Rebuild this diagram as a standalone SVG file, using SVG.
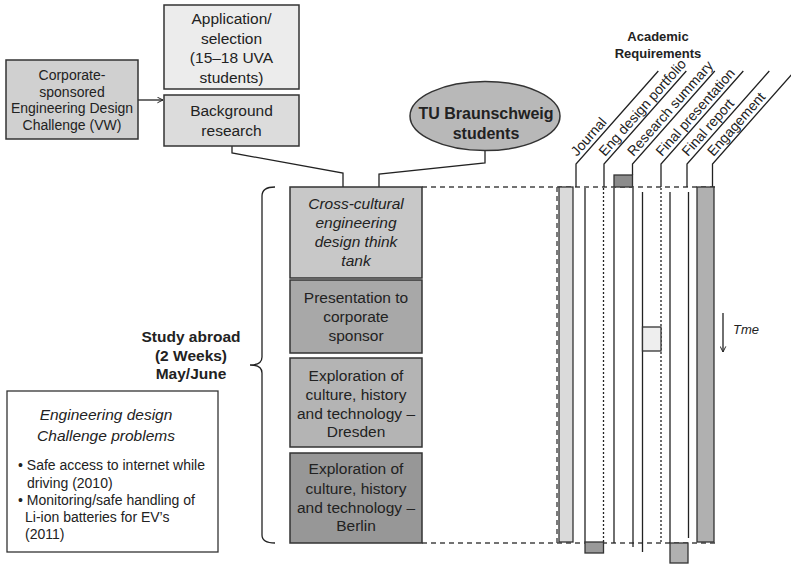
<svg xmlns="http://www.w3.org/2000/svg" width="791" height="566" viewBox="0 0 791 566">
<defs>
<style>
.box{stroke:#333;stroke-width:1.5}
.t{font-family:"Liberation Sans",Arial,sans-serif;font-size:15.5px;fill:#222;text-anchor:middle}
.ti{font-style:italic}
.tb{font-weight:bold}
.c{fill:none;stroke:#222;stroke-width:1.3}
.dash{fill:none;stroke:#444;stroke-width:1.4;stroke-dasharray:5,4}
.dot{fill:none;stroke:#222;stroke-width:1.3;stroke-dasharray:2,2}
.rl{font-family:"Liberation Sans",Arial,sans-serif;font-size:14px;fill:#222}
.sm{font-family:"Liberation Sans",Arial,sans-serif;font-size:14px;fill:#222}
</style>
<marker id="ah" viewBox="0 0 10 10" refX="9" refY="5" markerWidth="7" markerHeight="7" orient="auto" markerUnits="userSpaceOnUse">
<path d="M1,1 L9,5 L1,9" fill="none" stroke="#222" stroke-width="1.4"/>
</marker>
</defs>
<rect width="791" height="566" fill="#fff"/>

<g id="connectors">
<line class="c" x1="138" y1="100" x2="163" y2="100" marker-end="url(#ah)"/>
<polyline class="c" points="232,146 232,153 343,173 343,187"/>
<polyline class="c" points="485,151 485,163 379,174 379,187"/>
<path class="c" d="M275,187 Q262,187 262,196 L262,357 Q262,365 250,365 Q262,365 262,373 L262,535 Q262,543 275,543"/>
<line class="dash" x1="422" y1="187" x2="715" y2="187"/>
<line class="dash" x1="422" y1="543" x2="715" y2="543"/>
<line class="dash" x1="557" y1="187" x2="557" y2="543"/>
<line class="c" x1="723" y1="313" x2="723" y2="352" marker-end="url(#ah)"/>
</g>

<g id="app">
<rect class="box" x="164" y="5" width="135" height="84" fill="#ececec"/>
<text class="t" x="231.5" y="24">Application/</text>
<text class="t" x="231.5" y="43.5">selection</text>
<text class="t" x="231.5" y="63">(15–18 UVA</text>
<text class="t" x="231.5" y="82.5">students)</text>
</g>
<g id="background">
<rect class="box" x="164" y="95" width="135" height="51" fill="#dcdcdc"/>
<text class="t" x="231.5" y="115.5">Background</text>
<text class="t" x="231.5" y="135.5">research</text>
</g>
<g id="corporate">
<rect class="box" x="6" y="60" width="132" height="79" fill="#d0d0d0"/>
<text class="t" x="72" y="80" style="font-size:14px">Corporate-</text>
<text class="t" x="72" y="96.5" style="font-size:14px">sponsored</text>
<text class="t" x="72" y="113" style="font-size:14px">Engineering Design</text>
<text class="t" x="72" y="130" style="font-size:14px">Challenge (VW)</text>
</g>
<g id="tu">
<ellipse cx="485" cy="116" rx="75" ry="34.5" fill="#b8b8b8" stroke="#333" stroke-width="1.5"/>
<text class="t tb" x="486" y="119" style="font-size:16px">TU Braunschweig</text>
<text class="t tb" x="486" y="139" style="font-size:16px">students</text>
</g>

<g id="thinktank">
<rect class="box" x="290" y="187" width="132" height="91" fill="#c8c8c8"/>
<text class="t ti" x="356" y="208.5">Cross-cultural</text>
<text class="t ti" x="356" y="228">engineering</text>
<text class="t ti" x="356" y="247">design think</text>
<text class="t ti" x="356" y="266">tank</text>
</g>
<g id="presentation">
<rect class="box" x="290" y="280" width="132" height="73" fill="#a8a8a8"/>
<text class="t" x="356" y="303">Presentation to</text>
<text class="t" x="356" y="322">corporate</text>
<text class="t" x="356" y="341">sponsor</text>
</g>
<g id="dresden">
<rect class="box" x="290" y="358" width="132" height="89" fill="#b4b4b4"/>
<text class="t" x="356" y="380.5">Exploration of</text>
<text class="t" x="356" y="400">culture, history</text>
<text class="t" x="356" y="419">and technology –</text>
<text class="t" x="356" y="437">Dresden</text>
</g>
<g id="berlin">
<rect class="box" x="290" y="453" width="132" height="90" fill="#979797"/>
<text class="t" x="356" y="474">Exploration of</text>
<text class="t" x="356" y="494">culture, history</text>
<text class="t" x="356" y="512.5">and technology –</text>
<text class="t" x="356" y="531">Berlin</text>
</g>

<g id="study">
<text class="t tb" x="191" y="341.5">Study abroad</text>
<text class="t tb" x="191" y="361">(2 Weeks)</text>
<text class="t tb" x="191" y="379">May/June</text>
</g>

<g id="problems">
<rect x="7" y="391" width="211" height="161" fill="#fff" stroke="#333" stroke-width="1.3"/>
<text class="t ti" x="106" y="420" style="font-size:15.5px">Engineering design</text>
<text class="t ti" x="106" y="441" style="font-size:15.5px">Challenge problems</text>
<text class="sm" x="18" y="470">• Safe access to internet while</text>
<text class="sm" x="27" y="487.5">driving (2010)</text>
<text class="sm" x="18" y="504.5">• Monitoring/safe handling of</text>
<text class="sm" x="25" y="521.5">Li-ion batteries for EV’s</text>
<text class="sm" x="25" y="539">(2011)</text>
</g>

<g id="academic">
<text class="t tb" x="658" y="41" style="font-size:13px">Academic</text>
<text class="t tb" x="658" y="58" style="font-size:13px">Requirements</text>
</g>

<g id="req-journal">
<polyline class="c" points="576,187 576,164 658.3,71"/>
<text class="rl" transform="translate(577,157) rotate(-48.5)">Journal</text>
<rect x="559" y="187" width="14" height="355" fill="#dadada" stroke="#333" stroke-width="1.3"/>
</g>
<g id="req-portfolio">
<polyline class="c" points="604,187 604,164 686.3,71"/>
<text class="rl" transform="translate(605,157) rotate(-48.5)">Eng design portfolio</text>
<line class="c" x1="585" y1="188" x2="585" y2="542"/>
<line class="dot" x1="603.5" y1="188" x2="603.5" y2="542"/>
<rect x="585" y="542" width="18.5" height="11" fill="#999" stroke="#333" stroke-width="1.3"/>
</g>
<g id="req-research">
<polyline class="c" points="632.5,175 632.5,164 714.8,71"/>
<text class="rl" transform="translate(633.5,157) rotate(-48.5)">Research summary</text>
<rect x="614" y="175" width="18.5" height="12" fill="#8c8c8c" stroke="#333" stroke-width="1.3"/>
<line class="c" x1="614" y1="188" x2="614" y2="543"/>
<line class="c" x1="633" y1="188" x2="633" y2="547"/>
</g>
<g id="req-presentation">
<polyline class="c" points="661,187 661,164 743.3,71"/>
<text class="rl" transform="translate(662,157) rotate(-48.5)">Final presentation</text>
<line class="c" x1="642.5" y1="192" x2="642.5" y2="552"/>
<line class="dot" x1="661" y1="188" x2="661" y2="543"/>
<rect x="642.5" y="327" width="18.5" height="24" fill="#eeeeee" stroke="#333" stroke-width="1.3"/>
</g>
<g id="req-report">
<polyline class="c" points="687,187 687,164 769.3,71"/>
<text class="rl" transform="translate(688,157) rotate(-48.5)">Final report</text>
<line class="c" x1="670" y1="192" x2="670" y2="543"/>
<line class="c" x1="688.5" y1="192" x2="688.5" y2="538"/>
<rect x="670" y="543" width="18" height="20" fill="#b0b0b0" stroke="#333" stroke-width="1.3"/>
</g>
<g id="req-engagement">
<polyline class="c" points="712.5,187 712.5,164 794.8,71"/>
<text class="rl" transform="translate(713.5,157) rotate(-48.5)">Engagement</text>
<rect x="697" y="187" width="17" height="355" fill="#b0b0b0" stroke="#333" stroke-width="1.3"/>
</g>

<g id="time">
<text class="t ti" x="733" y="334" style="font-size:13px;text-anchor:start">Tme</text>
</g>
</svg>
